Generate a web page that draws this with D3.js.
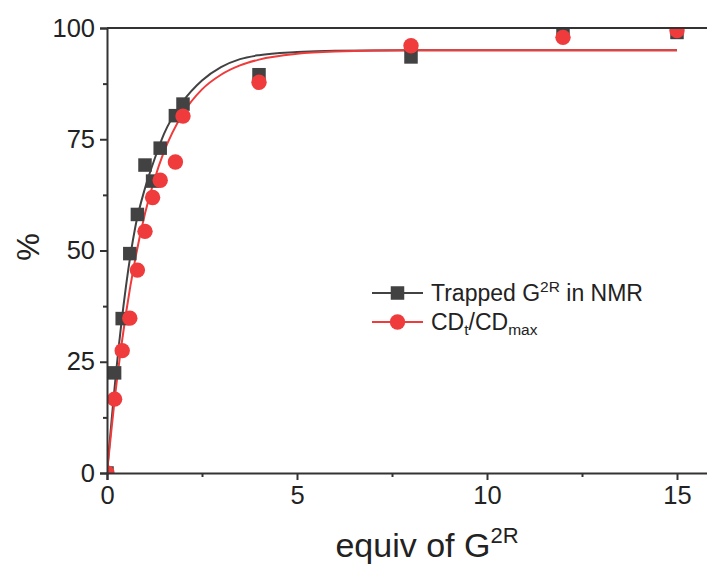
<!DOCTYPE html>
<html>
<head>
<meta charset="utf-8">
<script src="https://cdn.jsdelivr.net/npm/d3@7"></script>
<style>
  body { margin: 0; background: #fff; }
  svg { display: block; }
  text { font-family: "Liberation Sans", Arial, sans-serif; fill: #222; }
</style>
</head>
<body>
<svg id="chart" width="707" height="564"></svg>
<script>
// Equivalents of G2R added
const equiv = [0, 0.2, 0.4, 0.6, 0.8, 1.0, 1.2, 1.4, 1.8, 2.0, 4, 8, 12, 15];
// Trapped G2R measured by NMR (%)
const trappedNMR = [0, 22.5, 34.7, 49.3, 58.1, 69.2, 65.6, 73.0, 80.3, 82.9, 89.5, 93.5, 99.5, 99.0];
// CD_t / CD_max (%)
const cdRatio = [0, 16.6, 27.5, 34.8, 45.6, 54.3, 61.9, 65.8, 69.9, 80.2, 87.8, 96.0, 97.9, 99.4];

// Fitted saturation curves
const fitX   = [0, 0.25, 0.5, 0.75, 1, 1.25, 1.5, 2, 2.5, 3, 3.5, 4, 5, 6, 8, 10, 15];
const fitNMR = [0, 23.5, 42.0, 55.5, 64.0, 70.5, 76.2, 83.5, 88.2, 91.2, 93.0, 93.9, 94.6, 94.9, 95.0, 95.0, 95.0];
const fitCD  = [0, 20.1, 35.9, 48.4, 58.3, 66.0, 72.2, 80.8, 86.2, 89.5, 91.6, 92.9, 94.2, 94.7, 95.0, 95.0, 95.0];

const xTicks = [0, 5, 10, 15];
const xMinor = [2.5, 7.5, 12.5];
const yTicks = [0, 25, 50, 75, 100];
const yMinor = [12.5, 37.5, 62.5, 87.5];

(function draw() {
  const svg = d3.select("#chart");
  const mLeft = 107, mRight = 715, mTop = 28, mBottom = 473;

  const x = d3.scaleLinear().domain([0, 16]).range([mLeft, mRight]);
  const y = d3.scaleLinear().domain([0, 100]).range([mBottom, mTop]);

  const axisColor = "#333";
  const black = "#424242";
  const red = "#ef3b3b";

  svg.append("clipPath").attr("id", "plotArea")
    .append("rect").attr("x", mLeft).attr("y", mTop).attr("width", 707 - mLeft).attr("height", mBottom - mTop);

  const plot = svg.append("g").attr("clip-path", "url(#plotArea)");

  const line = d3.line().x((d, i) => x(fitX[i])).y(d => y(d)).curve(d3.curveMonotoneX);

  plot.append("path").datum(fitNMR).attr("d", line)
    .attr("fill", "none").attr("stroke", black).attr("stroke-width", 2);
  plot.append("path").datum(fitCD).attr("d", line)
    .attr("fill", "none").attr("stroke", red).attr("stroke-width", 2);

  const sq = 13.5;
  plot.selectAll("rect.nmr").data(trappedNMR).join("rect")
    .attr("class", "nmr")
    .attr("x", (d, i) => x(equiv[i]) - sq / 2)
    .attr("y", d => y(d) - sq / 2)
    .attr("width", sq).attr("height", sq)
    .attr("fill", black);

  plot.selectAll("circle.cd").data(cdRatio).join("circle")
    .attr("class", "cd")
    .attr("cx", (d, i) => x(equiv[i]))
    .attr("cy", d => y(d))
    .attr("r", 7.7)
    .attr("fill", red);

  // Axes
  svg.append("g").attr("transform", `translate(0,${mBottom})`)
    .call(d3.axisBottom(x).tickValues(xTicks).tickSize(7).tickPadding(6).tickFormat(d3.format("d")));
  svg.append("g").attr("transform", `translate(0,${mBottom})`)
    .call(d3.axisBottom(x).tickValues(xMinor).tickSize(4).tickFormat(""))
    .call(g => g.select(".domain").remove());

  svg.append("g").attr("transform", `translate(${mLeft},0)`)
    .call(d3.axisLeft(y).tickValues(yTicks).tickSize(7).tickPadding(5).tickFormat(d3.format("d")));
  svg.append("g").attr("transform", `translate(${mLeft},0)`)
    .call(d3.axisLeft(y).tickValues(yMinor).tickSize(4).tickFormat(""))
    .call(g => g.select(".domain").remove());

  svg.selectAll(".domain").attr("stroke", axisColor).attr("stroke-width", 2);
  svg.selectAll(".tick line").attr("stroke", axisColor).attr("stroke-width", 2);
  svg.selectAll(".tick text").attr("font-size", 25.5).attr("fill", "#222")
    .attr("font-family", "'Liberation Sans', Arial, sans-serif");

  // Top frame line
  svg.append("line").attr("x1", mLeft).attr("x2", 707).attr("y1", mTop).attr("y2", mTop)
    .attr("stroke", axisColor).attr("stroke-width", 2);

  // Axis titles
  const xt = svg.append("text").attr("x", 427).attr("y", 557)
    .attr("text-anchor", "middle").attr("font-size", 34);
  xt.append("tspan").text("equiv of G");
  xt.append("tspan").attr("dy", -14).attr("font-size", 22).text("2R");

  svg.append("text")
    .attr("transform", "translate(39,247) rotate(-90)")
    .attr("text-anchor", "middle").attr("font-size", 31).text("%");

  // Legend
  const legend = svg.append("g");
  const rows = [
    { color: black, marker: "square", y: 293 },
    { color: red, marker: "circle", y: 322 }
  ];
  rows.forEach(r => {
    legend.append("line").attr("x1", 372).attr("x2", 423).attr("y1", r.y).attr("y2", r.y)
      .attr("stroke", r.color).attr("stroke-width", 2);
    if (r.marker === "square") {
      legend.append("rect").attr("x", 397.5 - sq / 2).attr("y", r.y - sq / 2)
        .attr("width", sq).attr("height", sq).attr("fill", r.color);
    } else {
      legend.append("circle").attr("cx", 397.5).attr("cy", r.y).attr("r", 7.7).attr("fill", r.color);
    }
  });
  const t1 = legend.append("text").attr("x", 431).attr("y", 301).attr("font-size", 23);
  t1.append("tspan").text("Trapped G");
  t1.append("tspan").attr("dy", -9).attr("font-size", 15.5).text("2R");
  t1.append("tspan").attr("dy", 9).text(" in NMR");

  const t2 = legend.append("text").attr("x", 431).attr("y", 330).attr("font-size", 23);
  t2.append("tspan").text("CD");
  t2.append("tspan").attr("dy", 5).attr("font-size", 15.5).text("t");
  t2.append("tspan").attr("dy", -5).text("/CD");
  t2.append("tspan").attr("dy", 5).attr("font-size", 15.5).text("max");
})();
</script>
</body>
</html>
